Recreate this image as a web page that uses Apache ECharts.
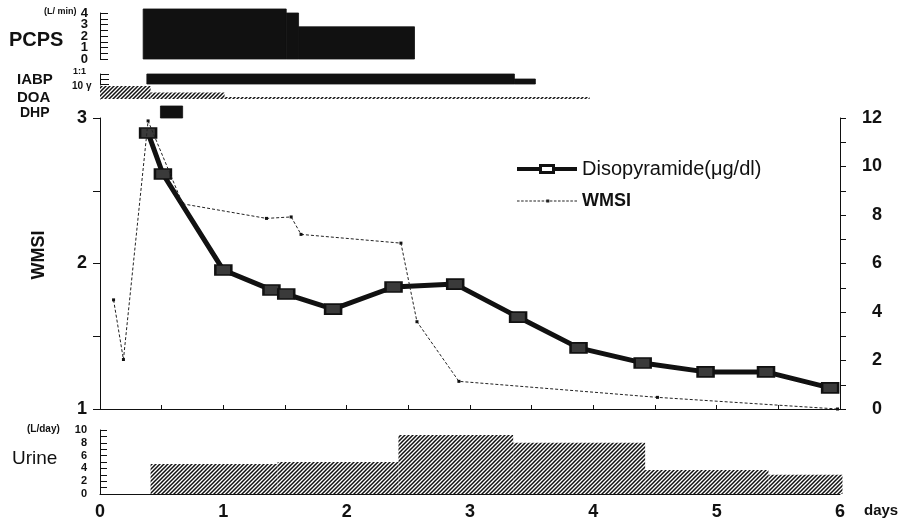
<!DOCTYPE html>
<html>
<head>
<meta charset="utf-8">
<script src="https://cdn.jsdelivr.net/npm/echarts@6/dist/echarts.min.js"></script>
<style>
html, body { margin: 0; padding: 0; background: #fff; }
#chart { width: 900px; height: 521px; }
</style>
</head>
<body>
<div id="chart"></div>
<script>
// 数据：时间单位为天
var pcpsStart = [0.35, 1.51, 1.61];
var pcpsEnd = [1.51, 1.61, 2.55];
var pcpsFlow = [4.35, 4.0, 2.8];

var iabpStart = [0.38, 3.36];
var iabpEnd = [3.36, 3.53];
var iabpLevel = [1, 0.5];

var doaStart = [0, 0.41, 1.01];
var doaEnd = [0.41, 1.01, 3.97];
var doaDose = [10, 5, 1.5];

var dhpStart = [0.49];
var dhpEnd = [0.67];
var dhpOn = [1];

var disoDay = [0.39, 0.51, 1.0, 1.39, 1.51, 1.89, 2.38, 2.88, 3.39, 3.88, 4.40, 4.91, 5.40, 5.92];
var disoValue = [11.38, 9.69, 5.73, 4.91, 4.74, 4.12, 5.03, 5.15, 3.79, 2.52, 1.90, 1.53, 1.53, 0.87];

var wmsiDay = [0.11, 0.19, 0.39, 0.67, 1.35, 1.55, 1.63, 2.44, 2.57, 2.91, 4.52, 5.98];
var wmsiValue = [1.75, 1.34, 2.98, 2.41, 2.31, 2.32, 2.20, 2.14, 1.60, 1.19, 1.08, 1.0];

var urineStart = [0.41, 1.44, 2.42, 3.35, 4.42, 5.42];
var urineEnd = [1.44, 2.42, 3.35, 4.42, 5.42, 6.02];
var urineVolume = [4.7, 5.0, 9.2, 8.0, 3.75, 3.0];

var font = "'Liberation Sans', Arial, Helvetica, sans-serif";
var ink = '#111';

function blocks(start, end, val) {
  return start.map(function (s, i) { return [s, end[i], val[i]]; });
}
function pairs(xs, ys) {
  return xs.map(function (x, i) { return [x, ys[i]]; });
}

// 斜线填充
function hatch() {
  var c = document.createElement('canvas');
  c.width = 4; c.height = 4;
  var g = c.getContext('2d');
  g.fillStyle = '#fff';
  g.fillRect(0, 0, 4, 4);
  g.strokeStyle = '#111';
  g.lineWidth = 1.5;
  g.beginPath();
  g.moveTo(0, 4); g.lineTo(4, 0);
  g.moveTo(-1, 1); g.lineTo(1, -1);
  g.moveTo(3, 5); g.lineTo(5, 3);
  g.stroke();
  return { image: c, repeat: 'repeat' };
}
var hatchFill = hatch();

function blockItem(fill, solid) {
  return function (params, api) {
    var p0 = api.coord([api.value(0), api.value(2)]);
    var p1 = api.coord([api.value(1), 0]);
    return {
      type: 'rect',
      shape: { x: p0[0], y: p0[1], width: p1[0] - p0[0], height: p1[1] - p0[1] },
      style: solid ? { fill: fill, stroke: fill, lineWidth: 0.8 } : { fill: fill }
    };
  };
}

function intOnly(v) { return v % 1 === 0 ? v : ''; }
function evenOnly(v) { return v % 2 === 0 ? v : ''; }

// 图例图标
var disoIcon = 'path://M0,3H22V0H38V3H60V7H38V10H22V7H0Z M25,3V7H35V3Z';
var wmsiIcon = 'path://';
for (var x = 0; x < 58; x += 4) {
  wmsiIcon += 'M' + x + ',4.5h2.5v1h-2.5z ';
}
wmsiIcon += 'M28.5,3.5h3v3h-3z';

var chart = echarts.init(document.getElementById('chart'));

var left = 100, width = 740;
function hiddenX(i) {
  return { type: 'value', gridIndex: i, min: 0, max: 6, show: false };
}

var option = {
  animation: false,
  backgroundColor: '#fff',
  textStyle: { fontFamily: font, color: ink },
  grid: [
    { left: left, width: width, top: 13, height: 46 },   // PCPS
    { left: left, width: width, top: 74, height: 10 },   // IABP
    { left: left, width: width, top: 86, height: 13 },   // DOA
    { left: left, width: width, top: 106, height: 12 },  // DHP
    { left: left, width: width, top: 118, height: 291 }, // main
    { left: left, width: width, top: 430, height: 64 }   // urine
  ],
  legend: {
    orient: 'vertical',
    left: 512,
    top: 154,
    itemWidth: 60,
    itemHeight: 10,
    itemGap: 13,
    selectedMode: false,
    textStyle: { fontFamily: font, color: ink },
    data: [
      { name: 'Disopyramide(μg/dl)', icon: disoIcon, itemStyle: { color: ink, borderWidth: 0 }, textStyle: { fontSize: 20 } },
      { name: 'WMSI', icon: wmsiIcon, itemStyle: { color: '#222', borderWidth: 0 }, textStyle: { fontSize: 18, fontWeight: 'bold' } }
    ]
  },
  xAxis: [
    hiddenX(0), hiddenX(1), hiddenX(2), hiddenX(3),
    {
      type: 'value', gridIndex: 4, min: 0, max: 6, interval: 0.5,
      axisLine: { lineStyle: { color: ink } },
      axisTick: { inside: true, length: 4, lineStyle: { color: ink } },
      axisLabel: { show: false },
      splitLine: { show: false }
    },
    {
      type: 'value', gridIndex: 5, min: 0, max: 6, interval: 1,
      axisLine: { lineStyle: { color: ink } },
      axisTick: { inside: true, length: 4, lineStyle: { color: ink } },
      axisLabel: { fontSize: 18, fontWeight: 'bold', color: ink, margin: 9 },
      splitLine: { show: false }
    }
  ],
  yAxis: [
    {
      type: 'value', gridIndex: 0, min: 0, max: 4, interval: 0.5,
      axisLine: { show: true, lineStyle: { color: ink } },
      axisTick: { inside: true, length: 8, lineStyle: { color: ink } },
      axisLabel: { formatter: intOnly, fontSize: 13, fontWeight: 'bold', color: ink, margin: 12 },
      splitLine: { show: false }
    },
    {
      type: 'value', gridIndex: 1, min: 0, max: 1, interval: 0.5,
      axisLine: { show: true, lineStyle: { color: ink } },
      axisTick: { inside: true, length: 9, lineStyle: { color: ink } },
      axisLabel: { show: false },
      splitLine: { show: false }
    },
    {
      type: 'value', gridIndex: 2, min: 0, max: 10,
      axisLine: { show: true, lineStyle: { color: ink } },
      axisTick: { show: false },
      axisLabel: { show: false },
      splitLine: { show: false }
    },
    { type: 'value', gridIndex: 3, min: 0, max: 1, show: false },
    {
      type: 'value', gridIndex: 4, min: 1, max: 3, interval: 0.5,
      axisLine: { show: true, lineStyle: { color: ink } },
      axisTick: { length: 7, lineStyle: { color: ink } },
      axisLabel: { formatter: intOnly, fontSize: 18, fontWeight: 'bold', color: ink, margin: 13 },
      splitLine: { show: false }
    },
    {
      type: 'value', gridIndex: 4, position: 'right', min: 0, max: 12, interval: 1,
      axisLine: { show: true, lineStyle: { color: ink } },
      axisTick: { length: 6, lineStyle: { color: ink } },
      axisLabel: { formatter: evenOnly, fontSize: 18, fontWeight: 'bold', color: ink, align: 'right', margin: 42 },
      splitLine: { show: false }
    },
    {
      type: 'value', gridIndex: 5, min: 0, max: 10, interval: 1,
      axisLine: { show: true, lineStyle: { color: ink } },
      axisTick: { inside: true, length: 7, lineStyle: { color: ink } },
      axisLabel: { formatter: evenOnly, fontSize: 11, fontWeight: 'bold', color: ink, margin: 13 },
      splitLine: { show: false }
    }
  ],
  series: [
    {
      name: 'PCPS', type: 'custom', xAxisIndex: 0, yAxisIndex: 0, silent: true,
      encode: { x: [0, 1], y: 2 },
      renderItem: blockItem(ink, true),
      data: blocks(pcpsStart, pcpsEnd, pcpsFlow)
    },
    {
      name: 'IABP', type: 'custom', xAxisIndex: 1, yAxisIndex: 1, silent: true,
      encode: { x: [0, 1], y: 2 },
      renderItem: blockItem(ink, true),
      data: blocks(iabpStart, iabpEnd, iabpLevel)
    },
    {
      name: 'DOA', type: 'custom', xAxisIndex: 2, yAxisIndex: 2, silent: true,
      encode: { x: [0, 1], y: 2 },
      renderItem: blockItem(hatchFill, false),
      data: blocks(doaStart, doaEnd, doaDose)
    },
    {
      name: 'DHP', type: 'custom', xAxisIndex: 3, yAxisIndex: 3, silent: true,
      encode: { x: [0, 1], y: 2 },
      renderItem: blockItem(ink, true),
      data: blocks(dhpStart, dhpEnd, dhpOn)
    },
    {
      name: 'WMSI', type: 'line', xAxisIndex: 4, yAxisIndex: 4,
      symbol: 'rect', symbolSize: 3,
      lineStyle: { width: 1, type: [3, 2], color: '#222' },
      itemStyle: { color: '#111' },
      z: 3,
      data: pairs(wmsiDay, wmsiValue)
    },
    {
      name: 'Disopyramide(μg/dl)', type: 'line', xAxisIndex: 4, yAxisIndex: 5,
      symbol: 'rect', symbolSize: [16, 10],
      lineStyle: { width: 5, color: ink },
      itemStyle: { color: '#3a3a3a', borderColor: ink, borderWidth: 2 },
      z: 2,
      data: pairs(disoDay, disoValue)
    },
    {
      name: 'Urine', type: 'custom', xAxisIndex: 5, yAxisIndex: 6, silent: true,
      encode: { x: [0, 1], y: 2 },
      renderItem: blockItem(hatchFill, false),
      data: blocks(urineStart, urineEnd, urineVolume)
    }
  ],
  graphic: [
    { type: 'text', x: 44, y: 12, style: { text: '(L/ min)', font: 'bold 9px ' + font, fill: ink, verticalAlign: 'middle' } },
    { type: 'text', x: 9, y: 40, style: { text: 'PCPS', font: 'bold 20px ' + font, fill: ink, verticalAlign: 'middle' } },
    { type: 'text', x: 73, y: 72, style: { text: '1:1', font: 'bold 9px ' + font, fill: ink, verticalAlign: 'middle' } },
    { type: 'text', x: 17, y: 80, style: { text: 'IABP', font: 'bold 15px ' + font, fill: ink, verticalAlign: 'middle' } },
    { type: 'text', x: 72, y: 86, style: { text: '10 γ', font: 'bold 10px ' + font, fill: ink, verticalAlign: 'middle' } },
    { type: 'text', x: 17, y: 98, style: { text: 'DOA', font: 'bold 15px ' + font, fill: ink, verticalAlign: 'middle' } },
    { type: 'text', x: 20, y: 113, style: { text: 'DHP', font: 'bold 14px ' + font, fill: ink, verticalAlign: 'middle' } },
    { type: 'text', x: 39, y: 255, rotation: Math.PI / 2, style: { text: 'WMSI', font: 'bold 18px ' + font, fill: ink, align: 'center', verticalAlign: 'middle' } },
    { type: 'text', x: 27, y: 429, style: { text: '(L/day)', font: 'bold 10px ' + font, fill: ink, verticalAlign: 'middle' } },
    { type: 'text', x: 12, y: 459, style: { text: 'Urine', font: '19px ' + font, fill: ink, verticalAlign: 'middle' } },
    { type: 'text', x: 864, y: 511, style: { text: 'days', font: 'bold 15px ' + font, fill: ink, verticalAlign: 'middle' } }
  ]
};
chart.setOption(option);
</script>
</body>
</html>
